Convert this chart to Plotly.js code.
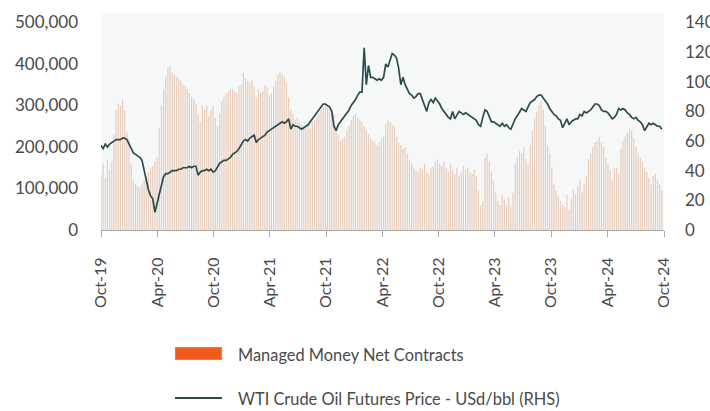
<!DOCTYPE html>
<html>
<head>
<meta charset="utf-8">
<script src="https://cdn.plot.ly/plotly-3.0.1.min.js"></script>
<style>
html,body{margin:0;padding:0;background:#ffffff;}
#chart{width:710px;height:411px;}
</style>
</head>
<body>
<div id="chart"></div>
<script>
// Weekly observations starting 2019-10-01
const startDate = '2019-10-01';
const netContracts = [
135000,160000,125000,170000,145000,
165000,230000,290000,305000,
300000,315000,290000,235000,
220000,160000,120000,110000,105000,
100000,110000,120000,130000,
140000,150000,155000,165000,
175000,245000,300000,340000,370000,
390000,395000,380000,375000,
370000,365000,360000,350000,
345000,340000,330000,320000,315000,
305000,280000,260000,300000,
290000,300000,275000,290000,
300000,270000,250000,280000,310000,
320000,330000,335000,340000,
340000,335000,330000,345000,
350000,380000,365000,360000,355000,
360000,345000,320000,340000,
330000,335000,350000,345000,
325000,330000,345000,360000,375000,
380000,375000,370000,355000,
320000,290000,280000,265000,
270000,260000,255000,250000,245000,
250000,245000,260000,265000,
270000,280000,290000,295000,
300000,295000,300000,290000,280000,
250000,230000,215000,220000,
225000,240000,250000,265000,
275000,280000,270000,265000,260000,
250000,240000,230000,220000,
215000,210000,205000,210000,
220000,225000,255000,265000,260000,
255000,250000,225000,210000,
205000,195000,200000,185000,
170000,160000,150000,145000,140000,
150000,145000,160000,140000,
135000,150000,155000,165000,
170000,160000,155000,165000,150000,
140000,160000,145000,135000,
150000,130000,140000,155000,
145000,150000,140000,135000,145000,
130000,95000,60000,70000,
175000,185000,165000,140000,
120000,90000,70000,60000,85000,
75000,60000,80000,55000,
90000,160000,175000,190000,
185000,200000,170000,160000,205000,
240000,270000,285000,300000,
310000,290000,250000,205000,
185000,150000,110000,95000,80000,
70000,60000,55000,85000,
50000,75000,95000,85000,
105000,120000,90000,110000,130000,
170000,185000,200000,210000,
215000,225000,210000,200000,
175000,160000,145000,120000,150000,
150000,135000,195000,215000,
225000,235000,245000,240000,
220000,200000,185000,175000,165000,
150000,140000,125000,110000,
130000,135000,120000,110000,
95000
];
const wtiPrice = [
57,55,58,56,58,
59,60,61,61,
61,62,62,61,
58,56,52,51,50,
49,47,40,33,
27,23,21,12,
18,25,32,36,38,
38,39,40,40,
40,41,41,42,
42,42,43,42,43,
43,37,39,40,
40,41,40,41,
39,40,43,45,46,
47,47,48,49,
51,52,53,55,
58,60,61,60,62,
63,64,59,61,
62,63,64,66,
67,68,69,70,71,
72,73,72,73,
75,68,71,70,
70,69,68,69,70,
71,73,75,77,
79,81,83,85,
85,84,83,80,70,
67,71,73,75,
77,79,81,84,
86,88,91,93,93,
123,98,111,103,
103,102,101,102,
101,103,112,110,115,
119,118,116,109,
98,103,98,95,
92,91,89,90,92,
92,88,85,80,
86,88,86,89,
87,85,82,80,78,
76,75,80,75,
78,80,79,78,
79,78,77,76,75,
74,71,70,76,
81,80,76,73,
73,72,71,70,72,
70,71,69,68,
72,75,77,80,
82,81,80,83,86,
87,88,90,91,
91,89,87,85,
82,80,78,77,75,
74,69,72,75,
71,73,74,75,
75,78,77,80,79,
80,81,83,85,
85,84,81,80,
80,79,77,75,76,
78,82,81,82,
81,79,78,76,
75,76,74,73,71,
67,70,72,71,
72,71,70,70,
68
];
const xTickVals = ['2019-10-01','2020-04-01','2020-10-01','2021-04-01','2021-10-01','2022-04-01','2022-10-01','2023-04-01','2023-10-01','2024-04-01','2024-10-01'];
const xTickText = ['Oct-19','Apr-20','Oct-20','Apr-21','Oct-21','Apr-22','Oct-22','Apr-23','Oct-23','Apr-24','Oct-24'];
const leftTickVals = [0,100000,200000,300000,400000,500000];
const rightTickVals = [0,20,40,60,80,100,120,140];
const legendLabels = ['Managed Money Net Contracts','WTI Crude Oil Futures Price - USd/bbl (RHS)'];

const WEEK = 7*24*3600*1000;
const FONT = 'Lato, "Open Sans", sans-serif';
const TXT = '#4a4a4a';

const traces = [
  {
    type:'bar', name: legendLabels[0], x0:startDate, dx:WEEK, y:netContracts,
    marker:{color:'rgba(210,145,105,0.42)', line:{width:0}},
    showlegend:false, hoverinfo:'skip'
  },
  {
    type:'scatter', mode:'lines', name: legendLabels[1], x0:startDate, dx:WEEK, y:wtiPrice,
    yaxis:'y2', line:{color:'#2b4c4c', width:1.7},
    showlegend:false, hoverinfo:'skip'
  }
];

// plot area in pixels: x 101..664, y 13..230
const L=101, R=664, T=13, B=230;
const px = v => (v-L)/(R-L);
const py = v => (B-v)/(B-T);

const layout = {
  width:710, height:411,
  margin:{l:L, r:710-R, t:T, b:411-B, pad:0},
  paper_bgcolor:'#ffffff',
  plot_bgcolor:'#f6f8f8',
  font:{family:FONT, color:TXT, size:16},
  bargap:0.45,
  showlegend:false,
  xaxis:{
    type:'date', range:['2019-10-01','2024-10-01'],
    tickmode:'array', tickvals:xTickVals, ticktext:xTickText,
    tickangle:-90, ticks:'outside', ticklen:6, tickcolor:'#a8a8a8',
    showline:true, linecolor:'#a8a8a8', linewidth:1,
    showgrid:false, zeroline:false,
    tickfont:{family:FONT, size:16, color:TXT},
    ticklabelstandoff:14
  },
  yaxis:{
    range:[0, 523000], tickmode:'array', tickvals:leftTickVals,
    tickformat:',d', showgrid:false, zeroline:false, showline:false,
    ticks:'', tickfont:{family:FONT, size:17, color:TXT},
    ticklabelstandoff:22
  },
  yaxis2:{
    range:[0, 146.4], overlaying:'y', side:'right', tickmode:'array', tickvals:rightTickVals,
    showgrid:false, zeroline:false, showline:false,
    ticks:'', tickfont:{family:FONT, size:17, color:TXT},
    ticklabelstandoff:20
  },
  shapes:[
    {type:'rect', xref:'paper', yref:'paper', x0:px(175), x1:px(222), y0:py(347), y1:py(360),
     fillcolor:'#f05a1c', line:{color:'#d8d8d8', width:0.5}},
    {type:'line', xref:'paper', yref:'paper', x0:px(175), x1:px(222), y0:py(398), y1:py(398),
     line:{color:'#2b4c4c', width:1.8}}
  ],
  annotations:[
    {xref:'paper', yref:'paper', x:px(236), y:py(354), xanchor:'left', yanchor:'middle',
     text:legendLabels[0], showarrow:false, font:{family:FONT, size:16.4, color:TXT}},
    {xref:'paper', yref:'paper', x:px(236), y:py(398), xanchor:'left', yanchor:'middle',
     text:legendLabels[1], showarrow:false, font:{family:FONT, size:16.4, color:TXT}}
  ]
};

Plotly.newPlot('chart', traces, layout, {staticPlot:true, displayModeBar:false});
</script>
</body>
</html>
